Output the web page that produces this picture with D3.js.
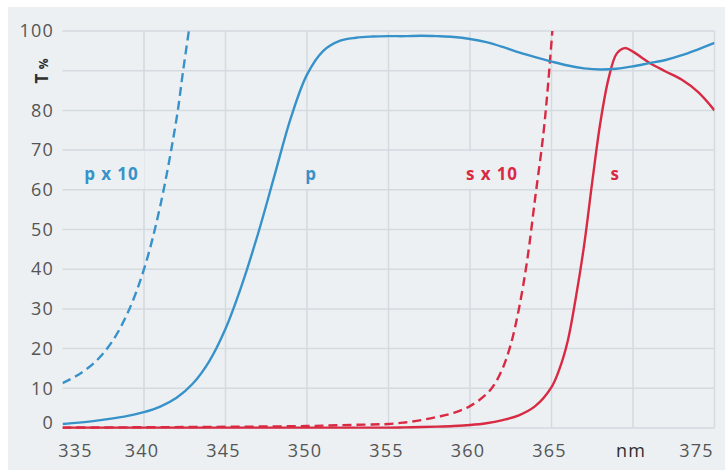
<!DOCTYPE html>
<html>
<head>
<meta charset="utf-8">
<script src="https://cdn.jsdelivr.net/npm/d3@7"></script>
<style>
  body { margin: 0; background: #fff; }
  svg { display: block; }
  text { font-family: "Open Sans", sans-serif; }
</style>
</head>
<body>
<svg id="chart"></svg>
<script>
const width = 725
const height = 470

// axis ticks
const xTicks = [335, 340, 345, 350, 355, 360, 365, 370, 375]
const yTicks = [0, 10, 20, 30, 40, 50, 60, 70, 80, 90, 100]

// p polarisation, transmission %
const pWave = [335, 336, 337, 338, 339, 340, 341, 342, 343, 344, 345, 346, 347, 348, 349, 350,
  351, 352, 353, 354, 355, 356, 357, 358, 359, 360, 361, 362, 363, 364, 365, 366, 367, 368,
  369, 370, 371, 372, 373, 374, 375]
const pT = [1.0, 1.35, 1.8, 2.35, 3.05, 4.0, 5.4, 7.6, 11.2, 16.8, 25, 36, 49, 63.5, 78, 89,
  95, 97.5, 98.3, 98.6, 98.7, 98.7, 98.8, 98.7, 98.5, 98.0, 97.2, 96.0, 94.6, 93.4, 92.3, 91.3, 90.6, 90.3,
  90.5, 91.1, 91.9, 92.7, 93.9, 95.4, 97.0]

// p x 10
const p10Wave = [335, 336, 337, 338, 339, 340, 341, 342, 342.4, 342.75]
const p10T = [11.3, 13.5, 16.6, 21.5, 29, 40, 56, 78, 90, 100]

// s polarisation
const sWave = [335, 340, 345, 350, 355, 356, 357, 358, 359, 360, 361, 362, 363, 364, 365,
  365.5, 366, 366.5, 367, 367.5, 368, 368.5, 369, 369.5, 370, 370.5, 371, 372, 373, 374, 375]
const sT = [0.1, 0.1, 0.1, 0.1, 0.1, 0.15, 0.25, 0.35, 0.5, 0.75, 1.2, 2.0, 3.2, 5.5, 10.3,
  15, 22, 33, 46, 62, 77, 88, 94.3, 95.7, 94.8, 93.4, 92.0, 89.8, 87.7, 84.6, 80]

// s x 10
const s10Wave = [335, 345, 350, 352, 354, 355, 356, 357, 358, 359, 360, 361, 361.5, 362, 362.5,
  363, 363.5, 364, 364.5, 364.8, 365.05]
const s10T = [0.1, 0.3, 0.5, 0.7, 0.9, 1.0, 1.4, 2.0, 2.8, 3.8, 5.5, 8.5, 11, 15, 21,
  30, 42, 58, 74, 87, 100]

// in-plot labels
const labelNames = ['p x 10', 'p', 's x 10', 's']
const labelX = [338.0, 350.25, 361.35, 368.9]
const labelY = [64, 64, 64, 64]

const blue = '#3892ca'
const red = '#d92a43'
const labelColors = [blue, blue, red, red]

const svg = d3.select('#chart')
  .attr('width', width)
  .attr('height', height)

// panel background
svg.append('rect')
  .attr('x', 8).attr('y', 7)
  .attr('width', width - 8).attr('height', height - 7)
  .attr('fill', '#ecf0f3')

const x = d3.scaleLinear().domain([335, 375]).range([62.5, 714.5])
const y = d3.scaleLinear().domain([0, 100]).range([428, 31])

// grid
const grid = svg.append('g').attr('class', 'grid')
grid.selectAll('line.h')
  .data(yTicks)
  .enter().append('line')
  .attr('class', 'h')
  .attr('x1', x(335)).attr('x2', x(375))
  .attr('y1', d => y(d)).attr('y2', d => y(d))
  .attr('stroke', '#d4dae0').attr('stroke-width', 1.5)
grid.selectAll('line.v')
  .data(xTicks.slice(1))
  .enter().append('line')
  .attr('class', 'v')
  .attr('x1', d => x(d)).attr('x2', d => x(d))
  .attr('y1', y(100)).attr('y2', y(0))
  .attr('stroke', '#d4dae0').attr('stroke-width', 1.5)

// x axis labels
const xAxis = d3.axisBottom(x)
  .tickValues(xTicks)
  .tickSize(0)
  .tickPadding(0)
  .tickFormat(d => d === 370 ? 'nm' : d)
const gx = svg.append('g')
  .attr('transform', `translate(-2.5,${y(0) + 16})`)
  .call(xAxis)
gx.select('.domain').remove()
gx.selectAll('text')
  .attr('font-size', 18)
  .attr('letter-spacing', 1.2)
  .attr('font-family', '"Open Sans", sans-serif')
  .attr('fill', d => d === 370 ? '#2e2e2e' : '#555')
  .attr('dx', d => d === 335 ? 15 : d === 375 ? -16 : 0)

// y axis labels
const yAxis = d3.axisLeft(y)
  .tickValues(yTicks)
  .tickSize(0)
  .tickPadding(8.5)
  .tickFormat(d => d === 90 ? '' : d)
const gy = svg.append('g')
  .attr('transform', `translate(${x(335)},0)`)
  .call(yAxis)
gy.select('.domain').remove()
gy.selectAll('text')
  .attr('font-size', 18)
  .attr('letter-spacing', 1.2)
  .attr('font-family', '"Open Sans", sans-serif')
  .attr('fill', '#555')
  .attr('y', d => d === 0 ? -5 : 0)

// axis title "T %"
const title = svg.append('text')
  .attr('transform', `translate(48,71) rotate(-90)`)
  .attr('text-anchor', 'middle')
  .attr('fill', '#2e2e2e')
title.append('tspan').attr('font-size', 17).attr('font-weight', 'bold').text('T ')
title.append('tspan').attr('font-size', 12).attr('font-weight', 'bold').text('%')

// curves
svg.append('clipPath').attr('id', 'clip')
  .append('rect')
  .attr('x', x(335)).attr('y', y(100) - 1)
  .attr('width', x(375) - x(335)).attr('height', y(0) - y(100) + 4)

const line = d3.line()
  .x(d => x(d[0]))
  .y(d => y(d[1]))
  .curve(d3.curveCatmullRom.alpha(0.5))

const series = [
  { wave: s10Wave, vals: s10T, color: red, dash: '9,5' },
  { wave: sWave, vals: sT, color: red, dash: null },
  { wave: p10Wave, vals: p10T, color: blue, dash: '9,5' },
  { wave: pWave, vals: pT, color: blue, dash: null }
]

svg.append('g')
  .attr('clip-path', 'url(#clip)')
  .selectAll('path')
  .data(series)
  .enter().append('path')
  .attr('d', d => line(d.wave.map((w, i) => [w, d.vals[i]])))
  .attr('fill', 'none')
  .attr('stroke', d => d.color)
  .attr('stroke-width', 2.4)
  .attr('stroke-dasharray', d => d.dash)

// series labels, knocking out the grid behind them
const labels = svg.append('g')
labelNames.forEach((name, i) => {
  const g = labels.append('g')
  const bg = g.append('rect').attr('fill', '#ecf0f3')
  const t = g.append('text')
    .attr('x', x(labelX[i]))
    .attr('y', y(labelY[i]))
    .attr('dy', '0.35em')
    .attr('text-anchor', 'middle')
    .attr('font-size', 17)
    .attr('font-weight', 'bold')
    .attr('letter-spacing', 0.9)
    .attr('fill', labelColors[i])
    .text(name)
  const box = t.node().getBBox()
  bg.attr('x', box.x - 6).attr('width', box.width + 12)
    .attr('y', y(70) + 1).attr('height', y(60) - y(70) - 2)
})
</script>
</body>
</html>
